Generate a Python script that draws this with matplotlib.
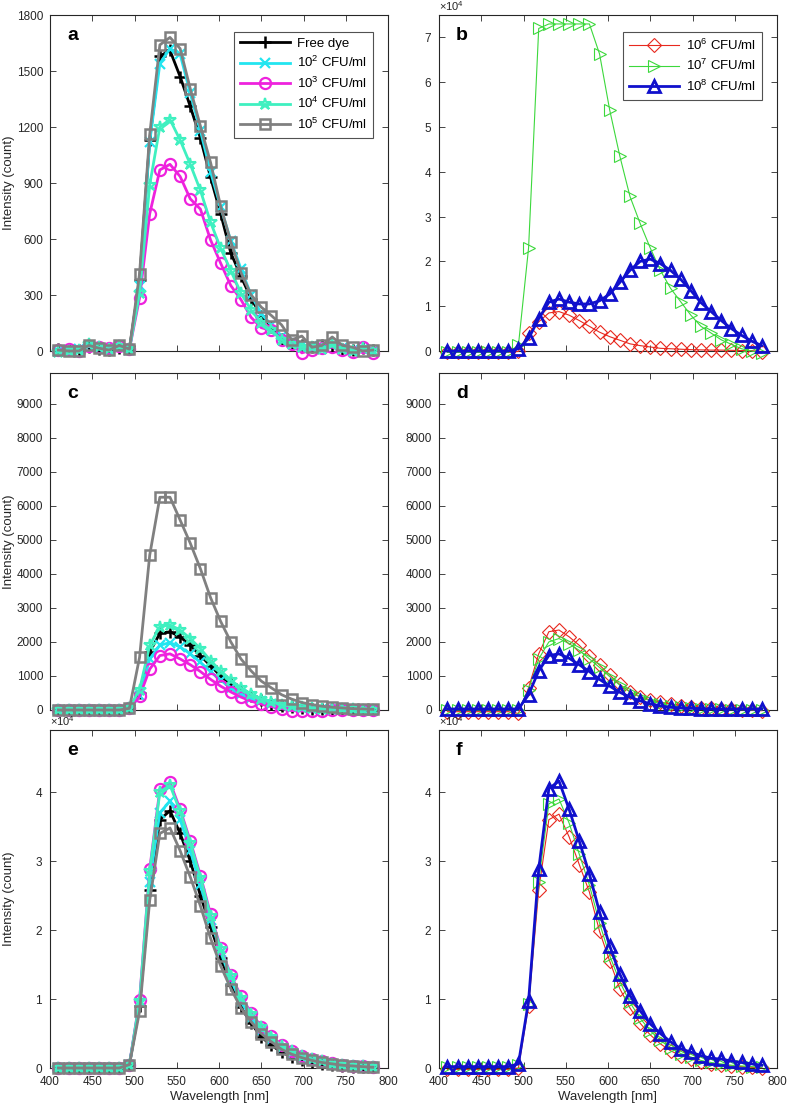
import matplotlib
matplotlib.use("Agg")
import matplotlib.pyplot as plt
from matplotlib.ticker import ScalarFormatter

plt.rcParams['font.family'] = ['Liberation Sans', 'DejaVu Sans']
plt.rcParams['mathtext.fontset'] = 'custom'
plt.rcParams['mathtext.rm'] = 'Liberation Sans'
plt.rcParams['mathtext.it'] = 'Liberation Sans:italic'
plt.rcParams['mathtext.bf'] = 'Liberation Sans:bold'

# ---------------- data ----------------
wavelength = [410, 422, 434, 446, 458, 470, 482, 494, 506, 518, 530, 542, 554, 566, 578, 590,
              602, 614, 626, 638, 650, 662, 674, 686, 698, 710, 722, 734, 746, 758, 770, 782]

labels_left = ['Free dye', '10$^2$ CFU/ml', '10$^3$ CFU/ml', '10$^4$ CFU/ml', '10$^5$ CFU/ml']
labels_right = ['10$^6$ CFU/ml', '10$^7$ CFU/ml', '10$^8$ CFU/ml']

# panel a
a_free = [10, 5, 5, 20, 10, 5, 15, 10, 380, 1130, 1580, 1610, 1470, 1310, 1140, 930,
          735, 525, 400, 280, 190, 130, 65, 40, 30, 20, 30, 20, 10, 5, 15, 5]
a_e2 = [0, 5, 10, 25, 15, 10, 20, 5, 350, 1120, 1540, 1620, 1590, 1380, 1180, 960,
        770, 590, 440, 300, 200, 140, 80, 45, 30, 25, 20, 30, 15, 5, 10, 0]
a_e3 = [5, 10, 0, 25, 20, 15, 25, 10, 285, 735, 970, 1000, 935, 815, 760, 595,
        470, 350, 275, 180, 125, 110, 60, 40, -10, 5, 15, 20, 5, -5, 20, -10]
a_e4 = [-5, 0, 5, 35, 20, 10, 25, 10, 310, 890, 1200, 1240, 1130, 1000, 860, 690,
        550, 430, 310, 220, 150, 110, 60, 35, 20, 20, 10, 40, 10, 0, 15, 0]
a_e5 = [5, 0, 0, 30, 15, 5, 30, 10, 415, 1160, 1640, 1680, 1620, 1405, 1205, 1010,
        775, 585, 420, 300, 235, 190, 140, 60, 80, 20, 30, 75, 30, 20, 0, 5]

# panel b
b_e6 = [-300, -300, -300, -300, -300, -300, -300, -100, 4000, 6500, 8500, 8800, 8000, 6800, 5500, 4200,
        3200, 2400, 1600, 1200, 900, 600, 500, 400, 300, 250, 200, 200, 150, 100, 100, -200]
b_e7 = [-300, -300, -300, -300, -300, -300, -300, 1300, 23000, 72000, 73000, 73000, 73000, 73000, 73000, 66300,
        53800, 43500, 34500, 28500, 23000, 18000, 14000, 11000, 8000, 5500, 4000, 2500, 1500, 500, 0, -500]
b_e8 = [0, 0, 0, 0, 0, 0, 0, 500, 2800, 7200, 10900, 11600, 10900, 10500, 10500, 11200,
        12700, 15300, 18000, 20000, 20500, 19500, 18000, 16000, 13500, 10800, 8800, 6800, 5000, 3500, 2200, 1200]

# panel c
c_free = [0, 0, 0, 0, 0, 0, 0, 50, 500, 1700, 2250, 2300, 2150, 1900, 1600, 1300,
          1000, 750, 550, 400, 280, 190, 130, 90, 60, 40, 30, 20, 15, 10, 5, 5]
c_e2 = [0, 0, 0, 0, 0, 0, 0, 30, 400, 1500, 1900, 1980, 1850, 1650, 1400, 1130,
        880, 660, 480, 350, 250, 170, 120, 80, 55, 40, 30, 20, 15, 10, 5, 5]
c_e3 = [0, 0, 0, 0, 0, 0, 0, 50, 400, 1200, 1600, 1650, 1500, 1330, 1130, 900,
        700, 530, 380, 260, 170, 100, 40, -20, -30, -30, -20, -10, 0, 0, 0, 0]
c_e4 = [0, 0, 0, 0, 0, 0, 0, 60, 600, 1900, 2450, 2500, 2350, 2100, 1800, 1450,
        1150, 880, 650, 470, 330, 230, 160, 110, 80, 50, 40, 30, 20, 15, 10, 5]
c_e5 = [0, 0, 0, 0, 0, 0, 0, 50, 1550, 4550, 6250, 6250, 5580, 4900, 4150, 3300,
        2600, 2000, 1500, 1150, 850, 650, 450, 320, 220, 160, 110, 80, 60, 40, 30, 20]

# panel d
d_e6 = [-50, -50, -50, -50, -50, -50, -50, -100, 650, 1650, 2300, 2350, 2150, 1900, 1600, 1320,
        1030, 750, 540, 390, 290, 230, 180, 130, 100, 70, 50, 30, 20, 10, 0, -20]
d_e7 = [0, 0, 0, 0, 0, 0, 0, 0, 600, 1500, 2000, 2100, 1950, 1750, 1500, 1250,
        980, 730, 530, 380, 270, 190, 130, 90, 60, 40, 30, 20, 10, 10, 5, 0]
d_e8 = [30, 30, 30, 30, 30, 30, 30, 30, 450, 1150, 1600, 1650, 1520, 1330, 1130, 900,
        700, 520, 380, 270, 180, 120, 80, 60, 50, 40, 30, 30, 30, 30, 30, 30]

# panel e
e_free = [0, 0, 0, 0, 0, 0, 0, 500, 9000, 25800, 36000, 37300, 34000, 30000, 25000, 20500,
          16000, 12000, 8800, 6500, 4500, 3300, 2300, 1600, 1100, 800, 600, 400, 300, 200, 150, 100]
e_e2 = [0, 0, 0, 0, 0, 0, 0, 500, 9500, 27000, 37000, 38700, 36000, 31500, 26500, 21500,
        16800, 12800, 9600, 7300, 5400, 4000, 2900, 2100, 1500, 1100, 800, 600, 400, 300, 200, 150]
e_e3 = [0, 0, 0, 0, 0, 0, 0, 500, 9900, 28800, 40400, 41400, 37500, 32900, 27900, 22300,
        17400, 13500, 10400, 8000, 6000, 4600, 3300, 2500, 1800, 1300, 1000, 700, 500, 350, 250, 150]
e_e4 = [0, 0, 0, 0, 0, 0, 0, 450, 9700, 28500, 40000, 41000, 37200, 32600, 27600, 22000,
        17200, 13300, 10200, 7800, 5900, 4500, 3200, 2400, 1700, 1250, 950, 650, 480, 330, 230, 140]
e_e5 = [0, 0, 0, 0, 0, 0, 0, 500, 8200, 24300, 34000, 34800, 31500, 27700, 23500, 18800,
        14800, 11500, 8700, 6700, 5000, 3800, 2700, 2000, 1500, 1100, 800, 600, 400, 300, 200, 100]

# panel f
f_e6 = [-200, -200, -200, -200, -200, -200, -200, 0, 9000, 25800, 36000, 36800, 33500, 29500, 25500, 19800,
        15500, 11500, 8700, 6500, 4800, 3500, 2500, 1800, 1300, 900, 600, 400, 300, 200, 100, 50]
f_e7 = [100, 100, 100, 100, 100, 100, 100, 500, 9300, 27000, 38300, 39000, 35500, 31000, 26500, 21000,
        16300, 12500, 9500, 7200, 5400, 4000, 2900, 2100, 1600, 1100, 800, 600, 400, 300, 200, 100]
f_e8 = [200, 200, 200, 200, 200, 200, 200, 600, 9700, 28800, 40500, 41600, 37500, 32900, 28100, 22600,
        17700, 13600, 10500, 8300, 6400, 5000, 3800, 2800, 2300, 1800, 1400, 1300, 1000, 800, 600, 400]

# ---------------- styles ----------------
left_styles = [
    dict(color='black', marker='+', ms=9, lw=2.0, mew=1.8),
    dict(color='#22e5f0', marker='x', ms=7, lw=2.0, mew=1.6),
    dict(color='#ee22dd', marker='o', ms=8, lw=2.0, mew=1.6),
    dict(color='#3ff0c0', marker='*', ms=9, lw=2.0, mew=1.5),
    dict(color='#808080', marker='s', ms=7, lw=2.0, mew=1.8),
]
right_styles = [
    dict(color='#e8281e', marker='D', ms=7, lw=0.8, mew=0.8),
    dict(color='#3cd83c', marker='>', ms=9, lw=0.8, mew=0.8),
    dict(color='#1010cc', marker='^', ms=9, lw=2.0, mew=2.0),
]

W, H = 787, 1108
fig = plt.figure(figsize=(W / 100, H / 100), dpi=100)


def make_ax(l, r, t, b):
    return fig.add_axes([l / W, 1 - b / H, (r - l) / W, (b - t) / H])


cols = [(50, 388), (439, 777)]
rows = [(15, 351), (373, 710), (730, 1068)]

panels = {
    'a': (0, 0, [a_free, a_e2, a_e3, a_e4, a_e5], left_styles, labels_left, (0, 1800), list(range(0, 1801, 300)), False),
    'b': (1, 0, [b_e6, b_e7, b_e8], right_styles, labels_right, (0, 75000), list(range(0, 70001, 10000)), True),
    'c': (0, 1, [c_free, c_e2, c_e3, c_e4, c_e5], left_styles, None, (0, 9900), list(range(0, 9001, 1000)), False),
    'd': (1, 1, [d_e6, d_e7, d_e8], right_styles, None, (0, 9900), list(range(0, 9001, 1000)), False),
    'e': (0, 2, [e_free, e_e2, e_e3, e_e4, e_e5], left_styles, None, (0, 49000), list(range(0, 40001, 10000)), True),
    'f': (1, 2, [f_e6, f_e7, f_e8], right_styles, None, (0, 49000), list(range(0, 40001, 10000)), True),
}

xticks = list(range(400, 801, 50))
for name, (ci, ri, series, styles, labels, ylim, yticks, sci) in panels.items():
    l, r = cols[ci]
    t, b = rows[ri]
    ax = make_ax(l, r, t, b)
    for k, (ys, st) in enumerate(zip(series, styles)):
        ax.plot(wavelength, ys, color=st['color'], marker=st['marker'], ms=st['ms'],
                lw=st['lw'], mew=st['mew'], mfc='none', mec=st['color'],
                label=labels[k] if labels else None, clip_on=False, zorder=3)
    ax.set_xlim(400, 800)
    ax.set_ylim(*ylim)
    ax.set_xticks(xticks)
    ax.set_yticks(yticks)
    if sci:
        fmt = ScalarFormatter(useMathText=True)
        fmt.set_powerlimits((0, 0))
        ax.yaxis.set_major_formatter(fmt)
        ax.yaxis.get_offset_text().set_fontsize(8)
        ax.yaxis.get_offset_text().set_color('#333333')
    ax.tick_params(direction='in', top=True, right=True, length=4, width=0.6,
                   labelsize=8.5, colors='#262626')
    ax.tick_params(axis='y', pad=5)
    ax.tick_params(axis='x', pad=6)
    if ri < 2:
        ax.tick_params(labelbottom=False)
    else:
        ax.set_xlabel('Wavelength [nm]', fontsize=9.5, color='#262626', labelpad=2)
    if ci == 0:
        ax.set_ylabel('Intensity (count)', fontsize=9.5, color='#262626')
        ax.yaxis.set_label_coords(-35 / (r - l), 0.5)
    for sp in ax.spines.values():
        sp.set_linewidth(0.8)
        sp.set_color('#262626')
    ax.text(0.05, 0.965, name, transform=ax.transAxes, fontsize=14, fontweight='bold',
            va='top', ha='left', color='black')
    if labels:
        leg = ax.legend(loc='upper right', bbox_to_anchor=(0.955, 0.95), borderaxespad=0,
                        fontsize=9.5, frameon=True, fancybox=False, edgecolor='#262626',
                        handlelength=3.8, labelspacing=0.4, borderpad=0.45, handletextpad=0.5)
        leg.get_frame().set_linewidth(0.8)

fig.savefig('out.png', dpi=100)
